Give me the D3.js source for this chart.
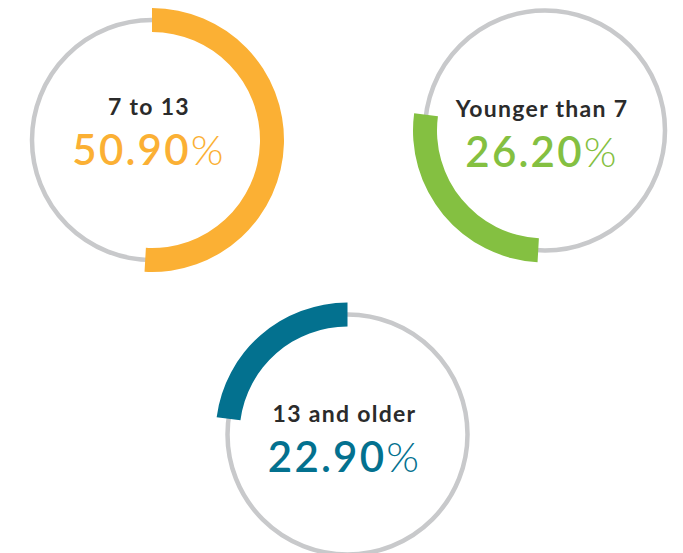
<!DOCTYPE html>
<html lang="en">
<head>
    <meta charset="UTF-8">
    <title>Age share rings</title>
    <script src="https://d3js.org/d3.v7.min.js"></script>
    <style>
        body {
            margin: 0;
            background: #fff;
            font-family: Lato, "Open Sans", sans-serif;
        }
    </style>
</head>
<body>
    <div id="chart"></div>

    <script>
        // data
        const categories = ['7 to 13', 'Younger than 7', '13 and older'];
        const shares = [50.9, 26.2, 22.9];
        const colors = ['#fbb034', '#84c041', '#03718f'];

        const width = 683, height = 553;
        const radius = 120;

        // where each ring sits, and how far its text block is shifted down
        const centers = [[152, 140], [545, 130.5], [347.5, 434.5]];
        const textShift = [0, 11, 12];

        const svg = d3.select('#chart')
            .append('svg')
            .attr('width', width)
            .attr('height', height);

        // one pie over all three, each ring shows only its own slice
        const pie = d3.pie().sort(null).value(d => d);
        const slices = pie(shares);

        const arc = d3.arc()
            .innerRadius(radius - 12)
            .outerRadius(radius + 12);

        const ring = svg.selectAll('g.ring')
            .data(slices)
            .enter()
            .append('g')
            .attr('class', 'ring')
            .attr('transform', (d, i) => `translate(${centers[i][0]},${centers[i][1]})`);

        ring.append('circle')
            .attr('r', radius)
            .attr('fill', 'none')
            .attr('stroke', '#c8c9cb')
            .attr('stroke-width', 4.5);

        ring.append('path')
            .attr('d', arc)
            .attr('fill', (d, i) => colors[i]);

        ring.append('text')
            .attr('text-anchor', 'middle')
            .attr('x', -3)
            .attr('y', (d, i) => -25 + textShift[i])
            .style('font-size', '23px')
            .style('font-weight', 700)
            .style('letter-spacing', '1.3px')
            .style('fill', '#2b2b2b')
            .text((d, i) => categories[i]);

        const pct = ring.append('text')
            .attr('text-anchor', 'middle')
            .attr('x', -3)
            .attr('y', (d, i) => 25 + textShift[i])
            .style('font-size', '42px')
            .style('letter-spacing', '2.2px')
            .style('fill', (d, i) => colors[i]);

        pct.append('tspan')
            .style('font-weight', 600)
            .text(d => d.data.toFixed(2));
        pct.append('tspan')
            .style('font-weight', 300)
            .text('%');
    </script>
</body>
</html>
